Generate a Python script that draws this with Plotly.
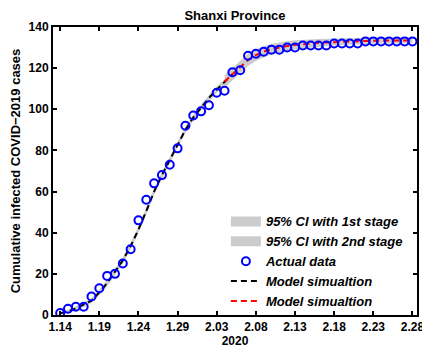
import pandas as pd
import plotly.graph_objects as go

START_DAY = "2020-01-14"

# days since 1.14
actual_cases = [1, 3, 4, 4, 9, 13, 19, 20, 25, 32, 46, 56, 64, 68, 73, 81, 92, 97, 99, 102,
                108, 109, 118, 119, 126, 127, 128, 129, 129, 130, 130, 131, 131, 131, 131,
                132, 132, 132, 132, 133, 133, 133, 133, 133, 133, 133]

# first stage model (days 0-22)
model_stage1 = [0.8, 1.8, 3.2, 5.0, 7.0, 11.0, 15.5, 21.0, 26.5, 33.5, 41.5, 50.5, 60.0, 68.0,
                75.5, 83.0, 90.0, 96.0, 101.0, 105.5, 109.5, 113.5, 117.0]
ci1_low = [0.2, 1.0, 2.2, 3.8, 5.8, 9.6, 14.0, 19.5, 25.0, 32.0, 40.0, 49.0, 58.5, 66.5,
           74.0, 81.5, 88.5, 94.5, 99.5, 104.0, 108.0, 112.0, 115.5]
ci1_high = [1.4, 2.6, 4.2, 6.2, 8.2, 12.4, 17.0, 22.5, 28.0, 35.0, 43.0, 52.0, 61.5, 69.5,
            77.0, 84.5, 91.5, 97.5, 102.5, 107.0, 111.0, 115.0, 118.5]

# second stage model (days 21-45)
model_stage2 = [113.5, 117.0, 120.5, 124.0, 126.3, 128.0, 129.2, 130.1, 130.8, 131.3, 131.7,
                132.0, 132.3, 132.5, 132.7, 132.9, 133.0, 133.1, 133.2, 133.3, 133.3, 133.4,
                133.4, 133.5, 133.5]
ci2_low = [110.5, 114.0, 117.5, 121.0, 123.5, 125.3, 126.7, 127.7, 128.5, 129.1, 129.6,
           130.0, 130.4, 130.7, 131.0, 131.2, 131.4, 131.6, 131.7, 131.8, 131.9, 132.0,
           132.0, 132.1, 132.1]
ci2_high = [116.5, 120.0, 123.5, 127.0, 129.1, 130.7, 131.7, 132.5, 133.1, 133.5, 133.8,
            134.0, 134.2, 134.3, 134.4, 134.6, 134.6, 134.6, 134.7, 134.8, 134.7, 134.8,
            134.8, 134.9, 134.9]

tick_labels = ["1.14", "1.19", "1.24", "1.29", "2.03", "2.08", "2.13", "2.18", "2.23", "2.28"]

dates = pd.date_range(START_DAY, periods=len(actual_cases), freq="D")
d1 = dates[:len(model_stage1)]
d2 = dates[21:21 + len(model_stage2)]

FONT = "Arial, Liberation Sans, sans-serif"
BAND = "rgb(204,204,204)"

fig = go.Figure()

# bands (legend drawn by the swatch traces below)
fig.add_trace(go.Scatter(
    x=list(d1) + list(d1[::-1]), y=ci1_high + ci1_low[::-1],
    fill="toself", fillcolor=BAND, line=dict(width=0), mode="lines",
    showlegend=False, hoverinfo="skip",
))
fig.add_trace(go.Scatter(
    x=list(d2) + list(d2[::-1]), y=ci2_high + ci2_low[::-1],
    fill="toself", fillcolor=BAND, line=dict(width=0), mode="lines",
    showlegend=False, hoverinfo="skip",
))
for rank, label in [(1, "95% CI with 1st stage"), (2, "95% CI with 2nd stage")]:
    fig.add_trace(go.Scatter(
        x=[None], y=[None], mode="lines", line=dict(color=BAND, width=13),
        name=label, legendrank=rank,
    ))

fig.add_trace(go.Scatter(
    x=d1, y=model_stage1, mode="lines",
    line=dict(color="black", width=2, dash="6px,4px"),
    name="Model simualtion", legendrank=4,
))
fig.add_trace(go.Scatter(
    x=d2, y=model_stage2, mode="lines",
    line=dict(color="red", width=2, dash="6px,4px"),
    name="Model simualtion", legendrank=5,
))
fig.add_trace(go.Scatter(
    x=dates, y=actual_cases, mode="markers",
    marker=dict(symbol="circle-open", size=8, color="blue", line=dict(width=2, color="blue")),
    name="Actual data", legendrank=3,
))

axis_style = dict(
    showline=True, linecolor="black", linewidth=2, mirror="ticks",
    ticks="inside", ticklen=4, tickwidth=1.5, tickcolor="black",
    showgrid=False, zeroline=False, automargin=False,
    tickfont=dict(family=FONT, size=12, color="black", weight="bold"),
)

fig.update_xaxes(
    type="date",
    range=[pd.Timestamp(START_DAY) - pd.Timedelta(hours=22), dates[-1] + pd.Timedelta(hours=14)],
    tickvals=list(dates[::5]), ticktext=tick_labels,
    title=dict(text="2020", font=dict(family=FONT, size=12, color="black", weight="bold"), standoff=2),
    **axis_style,
)
fig.update_yaxes(
    range=[0, 140], dtick=20,
    title=dict(text="Cumulative infected COVID\u22122019 cases",
               font=dict(family=FONT, size=13, color="black", weight="bold"), standoff=6),
    **axis_style,
)

# the page body adds an 8px offset, so the figure is sized to fit inside the window
fig.update_layout(
    template="none",
    width=422, height=343,
    margin=dict(l=45, r=13, t=19, b=36),
    plot_bgcolor="white", paper_bgcolor="white",
    title=dict(text="Shanxi Province", xref="paper", x=0.5, xanchor="center",
               yref="container", y=0.978, yanchor="middle",
               font=dict(family=FONT, size=13, color="black", weight="bold")),
    legend=dict(
        x=0.475, y=-0.005, xanchor="left", yanchor="bottom",
        bgcolor="rgba(0,0,0,0)", borderwidth=0, tracegroupgap=0,
        font=dict(family=FONT, size=13, color="black", weight="bold", style="italic"),
    ),
    showlegend=True,
)

fig.write_html("out.html")
